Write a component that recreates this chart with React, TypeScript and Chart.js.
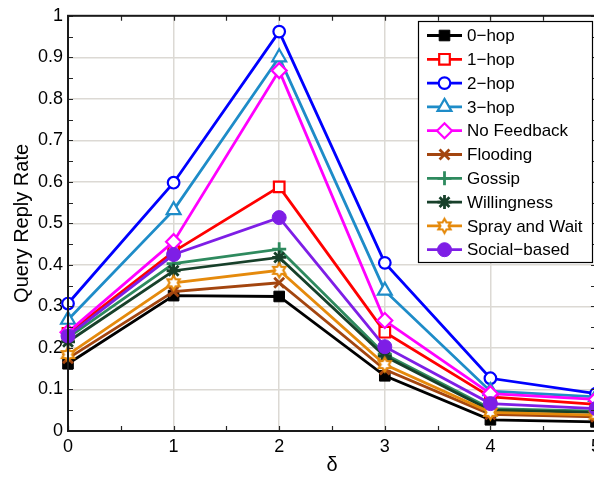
import React, { useEffect, useRef } from 'react';
import { Chart, registerables } from 'chart.js';
import { drawPoint } from 'chart.js/helpers';

Chart.register(...registerables);

const xValues = [0, 1, 2, 3, 4, 5];
const xTickLabels = ['0', '1', '2', '3', '4', '5'];
const yTickLabels = ['0', '0.1', '0.2', '0.3', '0.4', '0.5', '0.6', '0.7', '0.8', '0.9', '1'];

const seriesNames = ['0\u2212hop', '1\u2212hop', '2\u2212hop', '3\u2212hop', 'No Feedback', 'Flooding', 'Gossip', 'Willingness', 'Spray and Wait', 'Social\u2212based'];

const hop0 = [0.162, 0.326, 0.324, 0.133, 0.027, 0.022];
const hop1 = [0.235, 0.432, 0.588, 0.238, 0.082, 0.064];
const hop2 = [0.307, 0.598, 0.962, 0.405, 0.127, 0.090];
const hop3 = [0.268, 0.532, 0.900, 0.338, 0.096, 0.082];
const noFeedback = [0.238, 0.456, 0.868, 0.266, 0.090, 0.076];
const flooding = [0.175, 0.336, 0.357, 0.148, 0.040, 0.034];
const gossip = [0.225, 0.403, 0.438, 0.185, 0.054, 0.048];
const willingness = [0.215, 0.386, 0.418, 0.180, 0.050, 0.045];
const sprayAndWait = [0.184, 0.357, 0.387, 0.160, 0.045, 0.038];
const socialBased = [0.229, 0.425, 0.514, 0.203, 0.066, 0.054];

const seriesValues = [hop0, hop1, hop2, hop3, noFeedback, flooding, gossip, willingness, sprayAndWait, socialBased];

const FONT = '"Liberation Sans", Arial, Helvetica, sans-serif';

function makeHexagram(color: string, outer: number, lw: number): HTMLCanvasElement {
  const size = Math.ceil(outer * 2 + lw * 2 + 2);
  const c = document.createElement('canvas');
  c.width = size;
  c.height = size;
  const ctx = c.getContext('2d')!;
  const cx = size / 2;
  const cy = size / 2;
  const inner = outer / Math.sqrt(3);
  ctx.beginPath();
  for (let i = 0; i < 12; i++) {
    const r = i % 2 === 0 ? outer : inner;
    const a = -Math.PI / 2 + (i * Math.PI) / 6;
    const px = cx + r * Math.cos(a);
    const py = cy + r * Math.sin(a);
    if (i === 0) ctx.moveTo(px, py);
    else ctx.lineTo(px, py);
  }
  ctx.closePath();
  ctx.fillStyle = '#ffffff';
  ctx.fill();
  ctx.lineWidth = lw;
  ctx.strokeStyle = color;
  ctx.lineJoin = 'miter';
  ctx.stroke();
  return c;
}

export default function App() {
  const ref = useRef<HTMLCanvasElement | null>(null);

  useEffect(() => {
    if (!ref.current) return;
    const hex = makeHexagram('#e58a0c', 7, 2.2);
    const styles: any[] = [
      { color: '#000000', pointStyle: 'rect', radius: 7.5, fill: '#000000', bw: 1 },
      { color: '#ff0000', pointStyle: 'rect', radius: 7.5, fill: '#ffffff', bw: 2.2 },
      { color: '#0000ff', pointStyle: 'circle', radius: 5.8, fill: '#ffffff', bw: 2.2 },
      { color: '#1e8cc8', pointStyle: 'triangle', radius: 8, fill: '#ffffff', bw: 2.2 },
      { color: '#ff00ff', pointStyle: 'rectRot', radius: 7.5, fill: '#ffffff', bw: 2.2 },
      { color: '#a3450f', pointStyle: 'crossRot', radius: 7, fill: '#a3450f', bw: 2.8 },
      { color: '#2e8a5e', pointStyle: 'cross', radius: 7, fill: '#2e8a5e', bw: 2.8 },
      { color: '#17402a', pointStyle: 'star', radius: 7, fill: '#17402a', bw: 2.8 },
      { color: '#e58a0c', pointStyle: hex, radius: 7, fill: '#ffffff', bw: 2.2 },
      { color: '#7e1ee6', pointStyle: 'circle', radius: 7, fill: '#7e1ee6', bw: 1 },
    ];

    const datasets = seriesNames.map((name, i) => ({
      label: name,
      data: xValues.map((x, j) => ({ x, y: seriesValues[i][j] })),
      borderColor: styles[i].color,
      backgroundColor: styles[i].fill,
      borderWidth: 2.8,
      pointStyle: styles[i].pointStyle,
      pointRadius: styles[i].radius,
      pointBorderWidth: styles[i].bw,
      pointBorderColor: styles[i].color,
      pointBackgroundColor: styles[i].fill,
      tension: 0,
      fill: false,
      order: seriesNames.length - 1 - i,
      clip: false as any,
    }));

    const framePlugin = {
      id: 'frame',
      afterDatasetsDraw(chart: any) {
        const { ctx, chartArea, scales } = chart;
        const { left, right, top, bottom } = chartArea;
        ctx.save();
        ctx.strokeStyle = '#262626';
        ctx.lineWidth = 1.2;
        ctx.beginPath();
        const tl = 5;
        for (let v = 0; v <= 1.0001; v += 0.05) {
          const y = Math.round(scales.y.getPixelForValue(v)) + 0.5;
          ctx.moveTo(left, y);
          ctx.lineTo(left + tl, y);
          ctx.moveTo(right, y);
          ctx.lineTo(right - tl, y);
        }
        for (let v = 0; v <= 5.0001; v += 0.5) {
          const x = Math.round(scales.x.getPixelForValue(v)) + 0.5;
          ctx.moveTo(x, bottom);
          ctx.lineTo(x, bottom - tl);
          ctx.moveTo(x, top);
          ctx.lineTo(x, top + tl);
        }
        ctx.stroke();
        ctx.lineWidth = 2;
        ctx.strokeStyle = '#1a1a1a';
        ctx.strokeRect(left, top, right - left, bottom - top);
        ctx.restore();
      },
    };

    const legendPlugin = {
      id: 'boxLegend',
      afterDraw(chart: any) {
        const ctx = chart.ctx;
        const bx = 418, by = 21, bw = 174, bh = 241;
        ctx.save();
        ctx.fillStyle = '#ffffff';
        ctx.fillRect(bx, by, bw, bh);
        ctx.strokeStyle = '#000000';
        ctx.lineWidth = 1.2;
        ctx.strokeRect(bx + 0.5, by + 0.5, bw, bh);
        const ds = chart.data.datasets;
        for (let i = 0; i < ds.length; i++) {
          const y = 35.5 + i * 23.8;
          ctx.strokeStyle = ds[i].borderColor;
          ctx.lineWidth = 2.8;
          ctx.beginPath();
          ctx.moveTo(427, y);
          ctx.lineTo(462, y);
          ctx.stroke();
          ctx.fillStyle = ds[i].pointBackgroundColor;
          ctx.strokeStyle = ds[i].pointBorderColor;
          ctx.lineWidth = ds[i].pointBorderWidth;
          drawPoint(ctx, { pointStyle: ds[i].pointStyle, radius: ds[i].pointRadius, rotation: 0, borderWidth: ds[i].pointBorderWidth } as any, 444.5, y);
          ctx.fillStyle = '#000000';
          ctx.font = `17px ${FONT}`;
          ctx.textBaseline = 'middle';
          ctx.textAlign = 'left';
          ctx.fillText(ds[i].label, 467, y + 1);
        }
        ctx.restore();
      },
    };

    const chart = new Chart(ref.current, {
      type: 'line',
      data: { datasets: datasets as any },
      options: {
        animation: false,
        responsive: false,
        events: [],
        layout: { padding: { left: 0, top: 14, right: 44, bottom: 0 } },
        plugins: { legend: { display: false }, tooltip: { enabled: false } },
        scales: {
          x: {
            type: 'linear',
            min: 0,
            max: 5,
            ticks: {
              stepSize: 1,
              color: '#000000',
              font: { size: 18, family: FONT },
              padding: 5,
              maxRotation: 0,
              autoSkip: false,
              callback: (v: any) => xTickLabels[Math.round(Number(v))],
            },
            grid: { color: '#dcd9d4', lineWidth: 1.5, drawTicks: false },
            border: { display: false },
            title: { display: true, text: '\u03b4', color: '#000000', font: { size: 20, family: FONT }, padding: { top: 0, bottom: 0 } },
            afterFit: (s: any) => { s.height = 46; },
          },
          y: {
            type: 'linear',
            min: 0,
            max: 1,
            ticks: {
              stepSize: 0.1,
              color: '#000000',
              font: { size: 18, family: FONT },
              padding: 5,
              autoSkip: false,
              callback: (v: any) => yTickLabels[Math.round(Number(v) * 10)],
            },
            grid: { color: '#dcd9d4', lineWidth: 1.5, drawTicks: false },
            border: { display: false },
            title: { display: true, text: 'Query Reply Rate', color: '#000000', font: { size: 20, family: FONT }, padding: { top: 10, bottom: 0 } },
            afterFit: (s: any) => { s.width = 68; },
          },
        },
      },
      plugins: [framePlugin, legendPlugin],
    });
    return () => chart.destroy();
  }, []);

  return (
    <div style={{ position: 'fixed', left: 0, top: 0, width: 594, height: 477, overflow: 'hidden', background: '#ffffff' }}>
      <canvas ref={ref} width={640} height={477} style={{ display: 'block' }} />
    </div>
  );
}
